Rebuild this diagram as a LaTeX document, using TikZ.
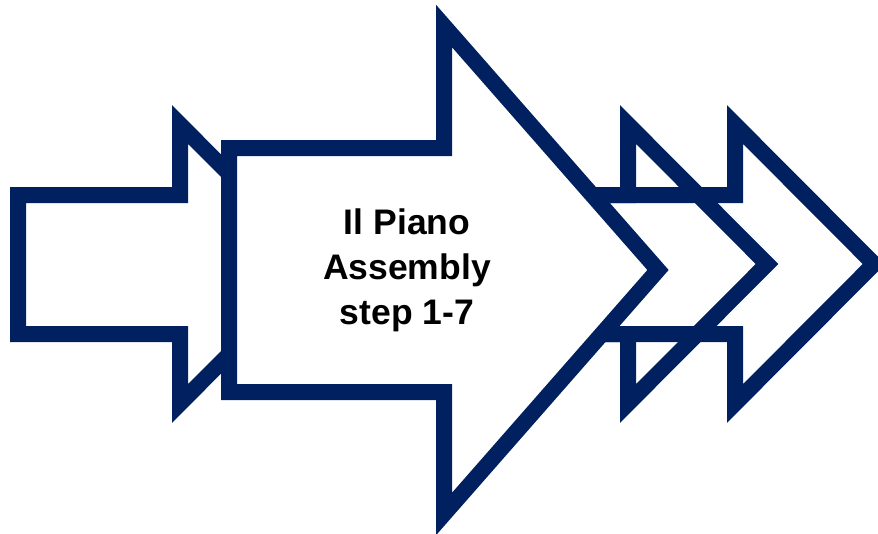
\documentclass[tikz,border=0pt]{standalone}
\usepackage{fontspec}
\setmainfont{Liberation Sans}
\definecolor{navy}{RGB}{0,32,96}

\begin{document}
\begin{tikzpicture}[x=1pt,y=-1pt,
    arrowline/.style={draw=navy, line width=16pt, line join=miter},
    label/.style={align=center, font=\fontsize{35.5}{45}\selectfont\bfseries}]
  \useasboundingbox (0,0) rectangle (878,533);
  % back arrows (outline only)
  \foreach \xb in {628,735}
    \draw[arrowline] (\xb-162,195) -- (\xb,195) -- (\xb,124.5) -- (\xb+139,264)
      -- (\xb,403.5) -- (\xb,334) -- (\xb-162,334) -- cycle;
  % small left arrow
  \draw[arrowline, fill=white] (18,195) -- (180,195) -- (180,124.5) -- (319,264)
    -- (180,403.5) -- (180,334) -- (18,334) -- cycle;
  % main arrow
  \draw[arrowline, fill=white] (229,148) -- (444,148) -- (444,26) -- (658,270)
    -- (444,514) -- (444,392) -- (229,392) -- cycle;
  \node (step) [label] at (407,270) {Il Piano\\Assembly\\step 1-7};
\end{tikzpicture}
\end{document}
